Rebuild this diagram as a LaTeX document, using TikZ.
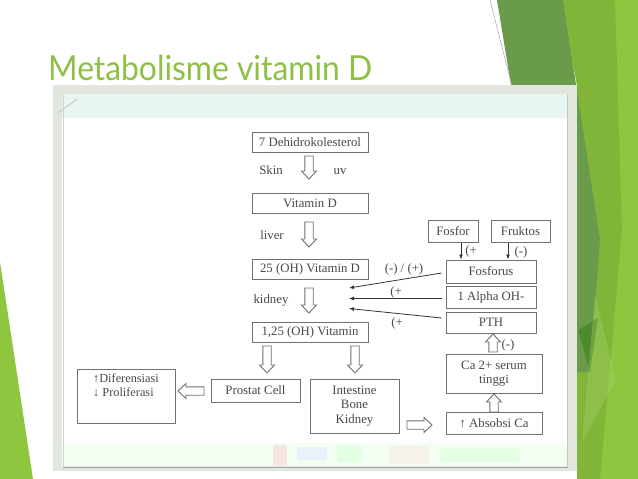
\documentclass[tikz,border=0pt]{standalone}
\usepackage{fontspec}
\setmainfont{Liberation Serif}
\newfontfamily\titlefont{Lato}
\usetikzlibrary{arrows.meta,calc}
\definecolor{titlegreen}{RGB}{141,192,67}
\definecolor{lime}{RGB}{143,198,64}
\definecolor{limemid}{RGB}{128,181,58}
\definecolor{darkgreen}{RGB}{106,155,75}
\definecolor{deepgreen}{RGB}{78,139,44}
\definecolor{palegreen}{RGB}{168,210,105}
\definecolor{framegray}{RGB}{226,231,221}
\definecolor{mint}{RGB}{233,246,240}
\definecolor{boxline}{RGB}{112,112,112}
\definecolor{txtgray}{RGB}{72,72,72}
\tikzset{
  box/.style={draw=boxline,line width=1pt,inner sep=0pt,font=\fontsize{12.8}{14.5}\selectfont,text=txtgray,align=center},
  lbl/.style={font=\fontsize{12.8}{14.5}\selectfont,text=txtgray,inner sep=0pt,anchor=base},
  hollow/.style={draw=boxline,line width=0.9pt,fill=white,line join=miter},
  thinarrow/.style={draw=black!80,line width=0.8pt,-{Latex[length=5pt,width=4pt]}},
  pics/harrow/.style={code={\draw[hollow] (-4.2,0) -- (-4.2,#1-8) -- (-7.5,#1-8) -- (0,#1) -- (7.5,#1-8) -- (4.2,#1-8) -- (4.2,0) -- cycle;}}
}
\begin{document}
\begin{tikzpicture}[x=1pt,y=-1pt]
\fill[white] (0,0) rectangle (638,479);
\useasboundingbox (0,0) rectangle (638,479);
% left green triangle
\fill[lime] (0,262) -- (33,479) -- (0,479) -- cycle;
% right decoration
\fill[lime] (560,0) -- (638,0) -- (638,479) -- (577,479) -- (577,85) -- cycle;
\fill[limemid] (563,0) -- (615,0) -- (622,230) -- (600,479) -- (577,479) -- (577,85) -- cycle;
\fill[darkgreen] (497,0) -- (563,0) -- (600,240) -- (590,372) -- (577,372) -- (577,85) -- (511,85) -- cycle;
\fill[deepgreen] (578,330) -- (598,318) -- (590,372) -- cycle;
\fill[palegreen,opacity=0.35] (595,295) -- (616,380) -- (582,442) -- cycle;
\draw[gray!70,line width=0.5pt] (490,0) -- (512,86);
% frame of the screenshot
\fill[framegray] (53,85) rectangle (577,471);
\fill[white] (62,94) rectangle (568,466);
\fill[mint] (62,94) rectangle (568,118);
\fill[green!5] (62,443) rectangle (568,466);
\fill[red!25,opacity=0.35] (273,445) rectangle (287,466);
\fill[blue!10,opacity=0.5] (297,447) rectangle (327,460);
\fill[green!18,opacity=0.5] (337,446) rectangle (362,462);
\fill[red!15,opacity=0.35] (390,446) rectangle (430,464);
\fill[green!15,opacity=0.5] (440,448) rectangle (520,462);
\draw[gray!70,line width=1pt] (63,467) -- (568,467);
\draw[gray!45,line width=0.8pt] (567,94) -- (567,466);
\draw[gray!35,line width=0.8pt] (63,94) -- (63,466);
\draw[gray!35,line width=1.5pt] (77,99) -- (58,113);
% title
\node[anchor=base west,inner sep=0pt,text=titlegreen,font=\titlefont\fontsize{34.5}{40}\selectfont] (title) at (48,80) {\resizebox{324pt}{\height}{Metabolisme vitamin D}};
% main column
\node[box,minimum width=116pt,minimum height=20pt] (b1) at (310,142) {7 Dehidrokolesterol};
\node[box,minimum width=116pt,minimum height=20pt] (b2) at (310,203) {Vitamin D};
\node[box,minimum width=116pt,minimum height=20pt] (b3) at (310,269) {25 (OH) Vitamin D};
\node[box,minimum width=116pt,minimum height=20pt] (b4) at (310,332.5) {1,25 (OH) Vitamin};
\node[box,minimum width=89pt,minimum height=23pt] (prostat) at (255.5,390.5) {Prostat Cell};
\node[box,minimum width=89pt,minimum height=54pt] (intestine) at (354.5,406) {Intestine\\Bone\\Kidney};
\node[box,minimum width=98pt,minimum height=54pt] (dif) at (126,396) {};
\node[inner sep=0pt,text=txtgray,anchor=north,align=left,font=\fontsize{12.3}{14}\selectfont] (diftext) at ($(dif.north)+(0,5)$) {↑Diferensiasi\\↓ Proliferasi};
% right column
\node[box,minimum width=50pt,minimum height=22pt] (fosfor) at (453,231) {Fosfor};
\node[box,minimum width=59pt,minimum height=22pt] (fruktos) at (520.5,231) {Fruktos};
\node[box,minimum width=90pt,minimum height=23pt] (fosforus) at (491,271.5) {Fosforus};
\node[box,minimum width=90pt,minimum height=22pt] (alpha) at (491,297) {1 Alpha OH-};
\node[box,minimum width=90pt,minimum height=21pt] (pth) at (491,322.5) {PTH};
\node[box,minimum width=96pt,minimum height=39pt] (ca) at (494,373.5) {Ca 2+ serum\\tinggi};
\node[box,minimum width=96pt,minimum height=22pt] (absobsi) at (494,423) {↑ Absobsi Ca};
% labels (placed by baseline)
\node[lbl] (skin) at (271,174) {Skin};
\node[lbl] (uv) at (340,174) {uv};
\node[lbl] (liver) at (272,239) {liver};
\node[lbl] (kidney) at (271,303) {kidney};
\node[lbl] (pm) at (404,272) {(-) / (+)};
\node[lbl] (p1) at (396,295) {(+};
\node[lbl] (p2) at (397,326) {(+};
\node[lbl] (p3) at (471,254) {(+};
\node[lbl] (m1) at (521,255) {(-)};
\node[lbl] (m2) at (508,348) {(-)};
% hollow arrows
\pic at (309,156) {harrow=23};
\pic at (309,222) {harrow=25};
\pic at (309,288) {harrow=25};
\pic at (267,346) {harrow=27};
\pic at (355,346) {harrow=27};
\pic[rotate=-90] at (204,391) {harrow=26};
\pic[rotate=90] at (407,425) {harrow=25};
\pic[rotate=180] at (494,412) {harrow=18};
\pic[rotate=180] at (493,352) {harrow=18};
% thin arrows
\coordinate (fx1) at (461,0);
\coordinate (fx2) at (508,0);
\draw[thinarrow] (fosfor.south -| fx1) -- (fosforus.north -| fx1);
\draw[thinarrow] (fruktos.south -| fx2) -- (fosforus.north -| fx2);
\coordinate (k1) at (349,288);
\coordinate (k2) at (349,298.5);
\coordinate (k3) at (349,308.5);
\draw[thinarrow] ($(fosforus.west)+(-4,1.5)$) -- (k1);
\draw[thinarrow] ($(alpha.west)+(-4,1.5)$) -- (k2);
\draw[thinarrow] ($(pth.west)+(-4,-4.5)$) -- (k3);
\end{tikzpicture}
\end{document}
